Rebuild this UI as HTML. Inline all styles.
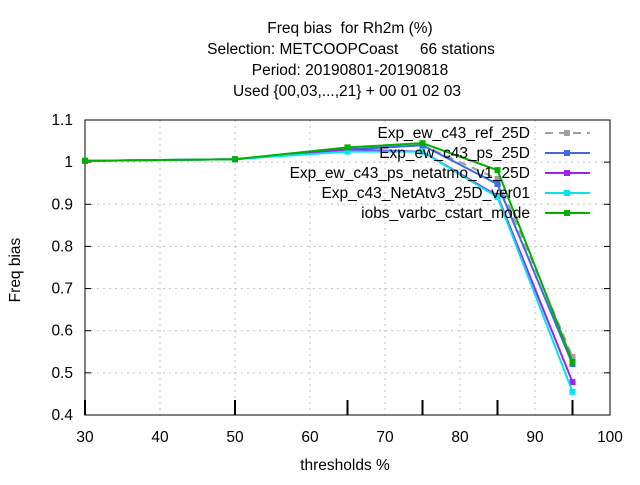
<!DOCTYPE html>
<html><head><meta charset="utf-8"><style>
body{margin:0;background:#fff;}
text{font-family:"Liberation Sans",sans-serif;font-size:15.5px;fill:#000;white-space:pre;}
</style></head><body>
<svg width="640" height="480">
<g id="title">
<text x="350" y="33" text-anchor="middle" xml:space="preserve">Freq bias  for Rh2m (%)</text>
<text x="351" y="54" text-anchor="middle" xml:space="preserve">Selection: METCOOPCoast     66 stations</text>
<text x="350" y="75" text-anchor="middle">Period: 20190801-20190818</text>
<text x="347" y="96" text-anchor="middle">Used {00,03,...,21} + 00 01 02 03</text>
</g>
<text transform="translate(20,270) rotate(-90)" text-anchor="middle">Freq bias</text>
<text x="345" y="470" text-anchor="middle">thresholds %</text>
<g id="grid"></g><g id="axes"></g><g id="series"></g><g id="legend"></g>
</svg>
<script>
const xTicks=[30,40,50,60,70,80,90,100];
const yTicks=[0.4,0.5,0.6,0.7,0.8,0.9,1.0,1.1];
const yTickLabels=["0.4","0.5","0.6","0.7","0.8","0.9","1","1.1"];
const thresholds=[30,50,65,75,85,95];
const seriesNames=["Exp_ew_c43_ref_25D","Exp_ew_c43_ps_25D","Exp_ew_c43_ps_netatmo_v1_25D","Exp_c43_NetAtv3_25D_ver01","iobs_varbc_cstart_mode"];
const refVals=[1.003,1.007,1.03,1.04,0.96,0.538];
const psVals=[1.003,1.007,1.03,1.04,0.948,0.521];
const netatmoVals=[1.003,1.007,1.03,1.025,0.92,0.478];
const netatv3Vals=[1.003,1.007,1.025,1.025,0.917,0.455];
const iobsVals=[1.003,1.007,1.035,1.045,0.981,0.526];
const colors=["#a0a0a0","#4169e1","#a020f0","#00e5ee","#00b000"];
const L=85,R=610,T=120,B=415;
const sx=v=>L+(v-30)/70*(R-L);
const sy=v=>B-(v-0.4)/0.7*(B-T);
const NS="http://www.w3.org/2000/svg";
function mk(tag,at,parent){const e=document.createElementNS(NS,tag);for(const k in at)e.setAttribute(k,at[k]);parent.appendChild(e);return e;}
const grid=document.getElementById('grid'),axes=document.getElementById('axes'),ser=document.getElementById('series'),leg=document.getElementById('legend');
xTicks.forEach(v=>{
 if(v>30&&v<100){const g=mk('line',{x1:sx(v),x2:sx(v),y1:T,y2:B,stroke:'#c0c0c0','stroke-dasharray':'2,4','stroke-width':1},grid);
 
 }
 const t=mk('text',{x:sx(v),y:B+27,'text-anchor':'middle'},axes);t.textContent=v;
 
 
});
yTicks.forEach((v,i)=>{
 if(i>0&&i<yTicks.length-1){const g=mk('line',{x1:L,x2:R,y1:sy(v),y2:sy(v),stroke:'#c0c0c0','stroke-dasharray':'2,4','stroke-width':1},grid);
 
 }
 mk('line',{x1:L,x2:L+6,y1:sy(v),y2:sy(v),stroke:'#000'},axes);
 mk('line',{x1:R,x2:R-6,y1:sy(v),y2:sy(v),stroke:'#000'},axes);
 const t=mk('text',{x:L-12,y:sy(v)+5,'text-anchor':'end'},axes);t.textContent=yTickLabels[i];
 
 
});
thresholds.forEach(v=>{mk('line',{x1:sx(v),x2:sx(v),y1:B-15,y2:B,stroke:'#000','stroke-width':2},axes);});
const frame=mk('rect',{x:L,y:T,width:R-L,height:B-T,fill:'none',stroke:'#000'},axes);


const all=[refVals,psVals,netatmoVals,netatv3Vals,iobsVals];
all.forEach((vals,s)=>{
 const pts=thresholds.map((x,i)=>sx(x)+','+sy(vals[i])).join(' ');
 const pl=mk('polyline',{points:pts,fill:'none',stroke:colors[s],'stroke-width':2,'stroke-dasharray':s==0?'8,6':'none'},ser);
 
 
 thresholds.forEach((x,i)=>{const m=mk('rect',{x:sx(x)-3,y:sy(vals[i])-3,width:6,height:6,fill:colors[s]},ser);
 
 });
 const ly=133+s*20;
 const t=mk('text',{x:530,y:ly+5,'text-anchor':'end'},leg);t.textContent=seriesNames[s];
 
 
 mk('line',{x1:545,x2:590,y1:ly,y2:ly,stroke:colors[s],'stroke-width':2,'stroke-dasharray':s==0?'8,6':'none'},leg);
 mk('rect',{x:564,y:ly-3,width:6,height:6,fill:colors[s]},leg);
});
</script>
</body></html>
